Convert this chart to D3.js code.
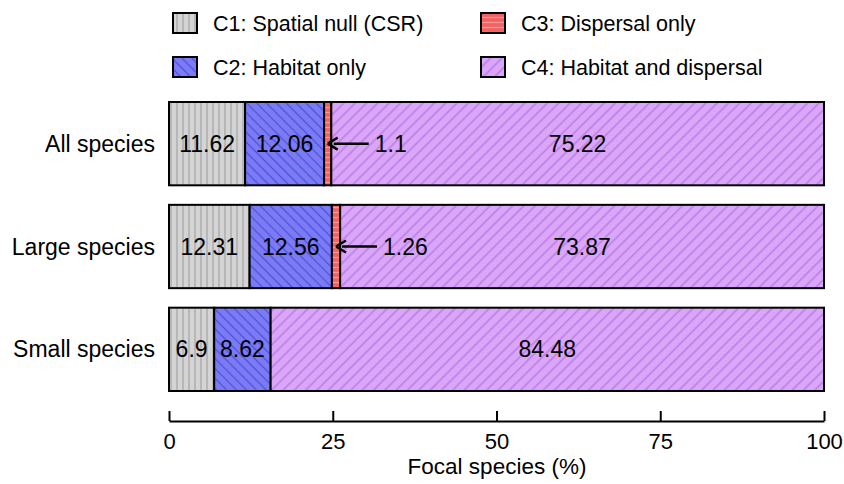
<!DOCTYPE html>
<html>
<head>
<meta charset="utf-8">
<script src="https://cdn.jsdelivr.net/npm/d3@7"></script>
<style>
  body { margin: 0; background: #fff; }
  svg text { font-family: "Liberation Sans", Arial, sans-serif; fill: #000; }
</style>
</head>
<body>
<svg width="844" height="484"></svg>
<script>
// **** Data ****
var groups = ['All species', 'Large species', 'Small species'];
var classes = ['C1: Spatial null (CSR)', 'C2: Habitat only', 'C3: Dispersal only', 'C4: Habitat and dispersal'];
var c1 = [11.62, 12.31, 6.9];
var c2 = [12.06, 12.56, 8.62];
var c3 = [1.1, 1.26, 0];
var c4 = [75.22, 73.87, 84.48];
var xTicks = [0, 25, 50, 75, 100];

var fills = ['#d4d4d4', '#7b7bf4', '#f26262', '#daa6f8'];
var hatch = ['#a4a4a4', '#4e4ee0', '#ff9a9a', '#b56ee8'];

var svg = d3.select('svg');

// **** Patterns ****
var defs = svg.append('defs');
function addPattern(id, bg, col, size, path, rot) {
    var p = defs.append('pattern').attr('id', id)
        .attr('patternUnits', 'userSpaceOnUse')
        .attr('width', size).attr('height', size);
    if (rot) p.attr('patternTransform', 'rotate(' + rot + ')');
    p.append('rect').attr('width', size).attr('height', size).attr('fill', bg);
    p.append('path').attr('d', path).attr('stroke', col).attr('stroke-width', 1.2);
}
addPattern('pat0', fills[0], hatch[0], 6, 'M3,0V6', 0);
addPattern('pat1', fills[1], hatch[1], 7, 'M3.5,0V7', -45);
addPattern('pat2', fills[2], hatch[2], 5, 'M0,2.5H5', 0);
addPattern('pat3', fills[3], hatch[3], 8, 'M4,0V8', 45);

// **** Scales ****
var x = d3.scaleLinear().domain([0, 100]).range([169, 824]);
var y = d3.scaleBand().domain(groups).range([102, 391]).paddingInner(0.19);

// **** Bars ****
var rows = groups.map(function(g, i) {
    var vals = [c1[i], c2[i], c3[i], c4[i]];
    var start = 0;
    return vals.map(function(v, k) {
        var s = { group: g, k: k, v: v, x0: start, x1: start + v };
        start += v;
        return s;
    });
});

rows.forEach(function(segs) {
    var g = svg.append('g');
    var segsDrawn = segs.filter(function(d) { return d.v > 0; });
    g.selectAll('rect').data(segsDrawn).enter().append('rect')
        .attr('x', function(d) { return x(d.x0); })
        .attr('y', function(d) { return y(d.group); })
        .attr('width', function(d) { return x(d.x1) - x(d.x0); })
        .attr('height', y.bandwidth())
        .attr('fill', function(d) { return 'url(#pat' + d.k + ')'; })
        .attr('stroke', '#000').attr('stroke-width', 2);

    // labels
    segsDrawn.forEach(function(d) {
        var cy = y(d.group) + y.bandwidth() / 2;
        if (d.k === 2) {
            var tip = x((d.x0 + d.x1) / 2);
            g.append('line')
                .attr('x1', tip + 41).attr('y1', cy)
                .attr('x2', tip + 6).attr('y2', cy)
                .attr('stroke', '#000').attr('stroke-width', 2.5);
            g.append('path')
                .attr('d', 'M' + tip + ',' + cy + 'l10,-6 M' + tip + ',' + cy + 'l10,6')
                .attr('stroke', '#000').attr('stroke-width', 2.5).attr('fill', 'none');
            g.append('text')
                .attr('x', tip + 47).attr('y', cy).attr('dy', '0.35em')
                .style('font-size', '23px')
                .text(d.v);
        } else {
            g.append('text')
                .attr('x', x((d.x0 + d.x1) / 2)).attr('y', cy).attr('dy', '0.35em')
                .attr('text-anchor', 'middle')
                .style('font-size', '23px')
                .text(d.v);
        }
    });
});

// **** Group labels ****
svg.selectAll('.glabel').data(groups).enter().append('text')
    .attr('class', 'glabel')
    .attr('x', 155)
    .attr('y', function(d) { return y(d) + y.bandwidth() / 2; })
    .attr('dy', '0.35em')
    .attr('text-anchor', 'end')
    .style('font-size', '23px')
    .text(function(d) { return d; });

// **** Axis ****
var axis = svg.append('g').attr('class', 'x axis')
    .attr('transform', 'translate(0,421)')
    .call(d3.axisBottom(x).tickValues(xTicks).tickSizeInner(-10).tickSizeOuter(0).tickPadding(12));
axis.attr('font-size', null).attr('font-family', null);
axis.select('.domain').attr('stroke-width', 2);
axis.selectAll('.tick line').attr('stroke-width', 2);
axis.selectAll('.tick text').style('font-size', '22px');

svg.append('text')
    .attr('x', 497).attr('y', 474)
    .attr('text-anchor', 'middle')
    .style('font-size', '22.5px')
    .text('Focal species (%)');

// **** Legend ****
var legendPos = [[173, 13], [173, 57], [481, 13], [481, 57]];
classes.forEach(function(c, k) {
    var p = legendPos[k];
    svg.append('rect')
        .attr('x', p[0]).attr('y', p[1])
        .attr('width', 24).attr('height', 20)
        .attr('fill', 'url(#pat' + k + ')')
        .attr('stroke', '#000').attr('stroke-width', 2);
    svg.append('text')
        .attr('x', p[0] + 40).attr('y', p[1] + 10).attr('dy', '0.35em')
        .style('font-size', '21.5px')
        .text(c);
});
</script>
</body>
</html>
